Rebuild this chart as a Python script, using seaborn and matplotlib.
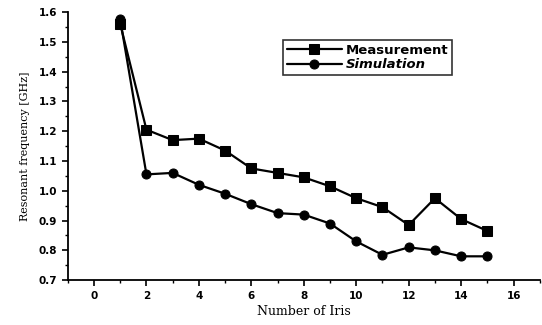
import pandas as pd
import numpy as np
import seaborn as sns
import matplotlib.pyplot as plt
from matplotlib.ticker import MultipleLocator

# values
iris = list(range(1, 16))
measurement = [1.56, 1.205, 1.17, 1.175, 1.135, 1.075, 1.06, 1.045, 1.015,
               0.975, 0.945, 0.885, 0.975, 0.905, 0.865]
simulation = [1.575, 1.055, 1.06, 1.02, 0.99, 0.955, 0.925, 0.92, 0.89,
              0.83, 0.785, 0.81, 0.80, 0.78, 0.78]
series_names = ['Measurement', 'Simulation']
xticks = list(range(0, 17, 2))
yticks = [0.7, 0.8, 0.9, 1.0, 1.1, 1.2, 1.3, 1.4, 1.5, 1.6]

df = pd.DataFrame({
    'iris': iris * 2,
    'freq': measurement + simulation,
    'series': [series_names[0]] * len(iris) + [series_names[1]] * len(iris),
})

sns.set_style('ticks')
plt.rcParams['font.family'] = ['DejaVu Sans']
plt.rcParams['text.color'] = 'black'
plt.rcParams['axes.labelcolor'] = 'black'
plt.rcParams['xtick.color'] = 'black'
plt.rcParams['ytick.color'] = 'black'
plt.rcParams['axes.edgecolor'] = 'black'

fig = plt.figure(figsize=(5.42, 3.25), dpi=100)
ax = fig.add_axes([0.125, 0.138, 0.871, 0.825])

sns.lineplot(data=df, x='iris', y='freq', hue='series', style='series',
             markers={'Measurement': 's', 'Simulation': 'o'}, dashes=False,
             palette=['black', 'black'], linewidth=1.6, markersize=6.5,
             markeredgecolor='black', ax=ax)

ax.set_xlim(-1, 17)
ax.set_ylim(0.7, 1.6)
ax.xaxis.set_minor_locator(MultipleLocator(1))
ax.yaxis.set_minor_locator(MultipleLocator(0.05))
ax.set_xticks(xticks)
ax.set_yticks(yticks)
ax.set_xticklabels([str(v) for v in xticks], fontweight='bold')
ax.set_yticklabels([f'{v:.1f}' for v in yticks], fontweight='bold')
ax.tick_params(which='major', length=4, width=1.2, labelsize=7.5, direction='out')
ax.tick_params(which='minor', length=2.5, width=1, direction='out')

ax.set_xlabel('Number of Iris', family='DejaVu Serif', fontsize=9, labelpad=3)
ax.set_ylabel('Resonant frequency [GHz]', family='DejaVu Serif', fontsize=8, labelpad=6)

sns.despine(ax=ax)
ax.spines['left'].set_linewidth(1.3)
ax.spines['bottom'].set_linewidth(1.3)

leg = ax.legend(loc='upper left', bbox_to_anchor=(0.455, 0.896), frameon=True,
                fancybox=False, edgecolor='black', fontsize=9.5, handlelength=4.2,
                borderpad=0.3, labelspacing=0.1, handletextpad=0.3,
                borderaxespad=0)
leg.get_frame().set_linewidth(1.2)
for t in leg.get_texts():
    t.set_fontweight('bold')
leg.get_texts()[1].set_fontstyle('italic')

fig.savefig('out.png', dpi=100)
